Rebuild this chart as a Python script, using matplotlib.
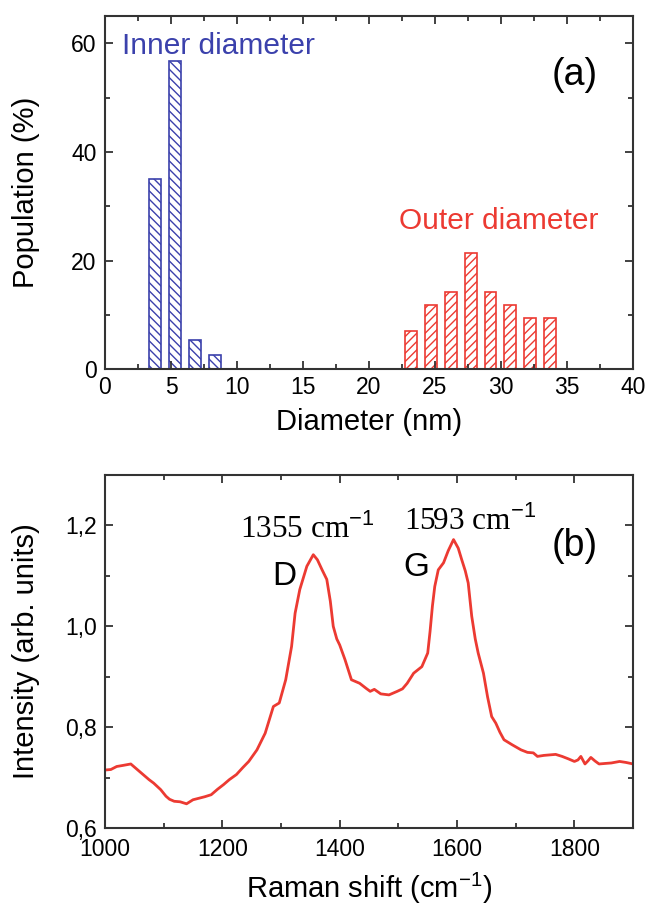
import numpy as np
import matplotlib
matplotlib.use("Agg")
import matplotlib.pyplot as plt
from matplotlib.ticker import MultipleLocator, FuncFormatter

plt.rcParams['font.family'] = ['Liberation Sans', 'DejaVu Sans']
plt.rcParams['mathtext.fontset'] = 'custom'
plt.rcParams['mathtext.rm'] = 'Liberation Sans'
plt.rcParams['mathtext.it'] = 'Liberation Sans:italic'
plt.rcParams['hatch.linewidth'] = 1.0

# (a) diameter histograms
inner_d = [3.8, 5.3, 6.8, 8.3]
inner_pop = [35.1, 56.8, 5.4, 2.7]
outer_d = [23.2, 24.7, 26.2, 27.7, 29.2, 30.7, 32.2, 33.7]
outer_pop = [7.1, 11.9, 14.3, 21.4, 14.3, 11.9, 9.5, 9.5]

# (b) Raman spectrum
raman_shift = [1000, 1010, 1020, 1030, 1044, 1055, 1065, 1075, 1083, 1095,
               1104, 1110, 1118, 1128, 1139, 1150, 1160, 1170, 1181, 1192,
               1202, 1212, 1224, 1235, 1245, 1259, 1273, 1287, 1297, 1308,
               1318, 1324, 1332, 1344, 1355, 1362, 1370, 1378, 1384, 1389,
               1395, 1400, 1409, 1420, 1434, 1445, 1452, 1459, 1470, 1484,
               1498, 1507, 1515, 1526, 1540, 1550, 1554, 1558, 1562, 1568,
               1577, 1585, 1594, 1602, 1608, 1614, 1619, 1625, 1631, 1636,
               1645, 1652, 1659, 1666, 1673, 1680, 1694, 1709, 1720, 1730,
               1737, 1748, 1758, 1768, 1779, 1790, 1800, 1806, 1811, 1818,
               1823, 1828, 1835, 1842, 1852, 1863, 1877, 1888, 1900]
intensity = [0.715, 0.716, 0.722, 0.724, 0.727, 0.716, 0.706, 0.696, 0.689, 0.676,
             0.663, 0.657, 0.653, 0.652, 0.648, 0.656, 0.659, 0.662, 0.666, 0.677,
             0.686, 0.696, 0.706, 0.720, 0.732, 0.755, 0.788, 0.841, 0.848, 0.894,
             0.960, 1.026, 1.073, 1.119, 1.142, 1.132, 1.112, 1.093, 1.050, 1.000,
             0.975, 0.963, 0.934, 0.894, 0.887, 0.877, 0.871, 0.875, 0.866, 0.864,
             0.871, 0.876, 0.887, 0.907, 0.920, 0.947, 0.990, 1.040, 1.079, 1.112,
             1.126, 1.150, 1.172, 1.155, 1.132, 1.110, 1.086, 1.020, 0.975, 0.947,
             0.907, 0.860, 0.821, 0.808, 0.790, 0.775, 0.765, 0.755, 0.750, 0.749,
             0.742, 0.744, 0.745, 0.746, 0.742, 0.737, 0.732, 0.735, 0.742, 0.727,
             0.733, 0.740, 0.733, 0.727, 0.728, 0.729, 0.732, 0.730, 0.727]

blue = '#3b41ac'
red = '#ec3a32'
spine_col = '#333333'


def style_axes(ax, xpad):
    for s in ax.spines.values():
        s.set_color(spine_col)
        s.set_linewidth(1.5)
    ax.tick_params(which='both', direction='in', top=True, right=True,
                   color=spine_col, width=1.3, labelsize=16.5, pad=6)
    ax.tick_params(axis='x', pad=xpad)
    ax.tick_params(which='major', length=6)
    ax.tick_params(which='minor', length=3.5)


fig = plt.figure(figsize=(6.48, 9.09), dpi=100)

# panel (a)
ax1 = fig.add_axes([0.162, 0.5937, 0.815, 0.3887])
ax1.bar(inner_d, inner_pop, width=0.9, facecolor='white', edgecolor=blue,
        hatch='\\\\\\\\', linewidth=1.2)
ax1.bar(outer_d, outer_pop, width=0.9, facecolor='white', edgecolor=red,
        hatch='////', linewidth=1.2)
ax1.set_xlim(0, 40)
ax1.set_ylim(0, 65)
ax1.xaxis.set_major_locator(MultipleLocator(5))
ax1.xaxis.set_minor_locator(MultipleLocator(2.5))
ax1.yaxis.set_major_locator(MultipleLocator(20))
ax1.yaxis.set_minor_locator(MultipleLocator(10))
style_axes(ax1, 5)
ax1.set_xlabel('Diameter (nm)', fontsize=21, va='center')
ax1.xaxis.set_label_coords(0.5, -0.148)
ax1.set_ylabel('Population (%)', fontsize=21, va='center')
ax1.yaxis.set_label_coords(-0.15, 0.5)
ax1.text(1.3, 59.4, 'Inner diameter', color=blue, fontsize=21.5,
         ha='left', va='center')
ax1.text(29.85, 27.2, 'Outer diameter', color=red, fontsize=21.5,
         ha='center', va='center')
ax1.text(35.6, 54.2, '(a)', fontsize=27, ha='center', va='center')

# panel (b)
ax2 = fig.add_axes([0.162, 0.0891, 0.815, 0.3883])
ax2.plot(raman_shift, intensity, color=red, linewidth=2.0)
ax2.set_xlim(1000, 1900)
ax2.set_ylim(0.6, 1.3)
ax2.xaxis.set_major_locator(MultipleLocator(200))
ax2.xaxis.set_minor_locator(MultipleLocator(100))
ax2.yaxis.set_major_locator(MultipleLocator(0.2))
ax2.yaxis.set_minor_locator(MultipleLocator(0.1))
ax2.yaxis.set_major_formatter(FuncFormatter(lambda v, p: ('%.1f' % v).replace('.', ',')))
style_axes(ax2, 7.5)
ax2.set_xlabel('Raman shift (cm$^{-1}$)', fontsize=21, va='center')
ax2.xaxis.set_label_coords(0.5, -0.172)
ax2.set_ylabel('Intensity (arb. units)', fontsize=21, va='center')
ax2.yaxis.set_label_coords(-0.15, 0.5)
serif = ['Liberation Serif', 'DejaVu Serif']
ax2.text(1344, 1.176, '1355 cm$^{-1}$', family=serif, fontsize=22.5,
         ha='center', va='baseline')
ax2.text(1622, 1.192, '1593 cm$^{-1}$', family=serif, fontsize=22.5,
         ha='center', va='baseline')
ax2.text(1305, 1.099, 'D', fontsize=24, ha='center', va='center')
ax2.text(1530, 1.116, 'G', fontsize=24, ha='center', va='center')
ax2.text(1800, 1.159, '(b)', fontsize=27, ha='center', va='center')

fig.savefig('out.png', dpi=100)
